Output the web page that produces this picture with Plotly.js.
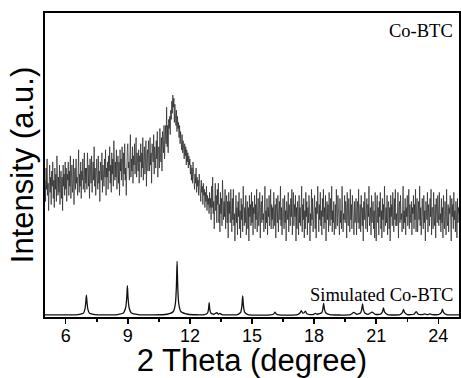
<!DOCTYPE html>
<html>
<head>
<meta charset="utf-8">
<script src="https://cdn.plot.ly/plotly-3.0.1.min.js"></script>
<style>html,body{margin:0;padding:0;background:#fff;}#chart{width:461px;height:378px;}</style>
</head>
<body>
<div id="chart"></div>
<script>
// Experimental Co-BTC pattern: uniform 2θ grid from 5.000 in steps of 0.025
var expStart = 5.0;
var expStep = 0.025;
var expY = [
  // 5.0 - 5.975
  45,38,49,42,52,40,44,35,47,50,41,46,37,48,43,51,39,45,36,49,42,47,38,53,44,40,46,41,50,37,45,48,39,46,35,50,43,47,40,51,
  // 6.0 - 6.975
  42,49,38,47,45,51,40,48,43,53,39,46,50,41,44,52,37,47,49,42,52,44,46,40,49,55,41,47,43,51,39,48,45,52,42,46,54,41,49,44,
  // 7.0 - 7.975
  49,42,54,46,43,50,39,52,48,44,53,41,47,51,45,56,43,49,40,50,52,46,42,53,44,48,38,51,49,45,54,41,50,47,43,52,46,55,40,49,
  // 8.0 - 8.975
  46,51,42,53,48,56,44,50,41,54,47,52,43,58,49,45,51,46,55,42,50,53,44,51,40,55,48,52,45,56,50,43,54,47,57,45,49,40,52,55,
  // 9.0 - 9.975
  57,49,51,45,54,60,46,52,48,56,44,53,50,57,47,51,59,46,54,49,48,55,44,53,51,57,46,54,49,59,45,52,56,47,50,58,43,53,55,48,
  // 10.0 - 10.975
  58,52,48,59,50,54,44,57,55,51,60,47,56,53,49,58,52,61,46,55,56,49,62,54,51,59,48,61,58,54,63,52,58,63,57,69,56,63,54,65,
  // 11.0 - 11.975
  62,66,60,68,65,71,67,73,69,72,64,70,66,63,68,61,66,62,64,59,63,57,61,58,55,60,54,58,56,52,57,53,56,50,55,51,54,49,53,50,
  // 12.0 - 12.975
  52,47,50,45,49,44,51,46,48,42,47,44,49,41,46,43,45,40,47,42,44,38,45,41,43,37,44,40,42,36,41,38,43,35,40,37,39,34,41,36,
  // 13.0 - 13.975
  39,32,43,36,46,34,38,29,41,44,35,40,31,42,37,44,31,37,28,41,34,39,30,45,36,32,38,33,42,29,37,40,31,38,26,41,34,38,31,42,
  // 14
  35,28,39,32,42,30,34,25,37,40,31,36,27,38,33,41,29,35,26,39,32,37,28,43,34,30,36,31,40,27,35,38,29,36,25,40,33,37,30,41,
  // 15
  31,38,27,36,34,40,29,37,32,42,28,35,39,30,33,41,26,36,38,31,40,32,34,28,37,43,29,35,31,39,27,36,33,40,30,34,42,29,37,32,
  // 16
  36,29,41,33,30,37,26,39,35,31,40,28,34,38,32,43,30,36,27,37,39,33,29,40,31,35,25,38,36,32,41,28,37,34,30,39,33,42,27,36,
  // 17
  41,30,37,33,40,25,36,29,38,35,27,40,31,36,30,34,43,28,37,32,39,26,35,29,41,33,38,27,36,31,40,37,25,34,30,42,32,39,28,35,
  // 18
  33,40,29,36,26,38,34,43,31,28,37,32,41,30,35,27,39,33,42,29,36,31,40,25,34,38,32,37,28,41,33,30,39,32,43,28,35,31,38,27,
  // 19
  32,37,29,42,34,30,40,33,36,27,39,31,35,29,43,37,28,34,32,40,31,38,36,26,41,33,30,39,35,28,42,32,37,29,40,34,36,27,38,31,
  // 20
  32,39,27,35,38,31,42,29,33,37,28,40,34,30,36,25,38,32,41,31,29,35,39,28,37,33,43,30,32,36,27,40,31,34,38,29,35,26,41,32,
  // 21
  25,37,40,31,36,27,38,33,41,29,35,26,39,32,37,28,43,34,30,36,31,40,27,35,38,29,36,25,40,33,37,30,41,35,28,39,32,42,30,34,
  // 22
  30,33,41,26,36,38,31,40,32,34,28,37,43,29,35,31,39,27,36,33,40,30,34,42,29,37,32,31,38,27,36,34,40,29,37,32,42,28,35,39,
  // 23
  28,34,38,32,43,30,36,27,37,39,33,29,40,31,35,25,38,36,32,41,28,37,34,30,39,33,42,27,36,36,29,41,33,30,37,26,39,35,31,40,
  // 24
  37,30,41,32,34,28,39,31,36,26,40,33,29,38,35,27,42,32,30,37,28,36,34,40,31,25,39,33,37,29,41,32,35,28,38,34,26,39,31,36,
  // 25.0
  34
];

// Simulated Co-BTC pattern
var simX = [
  5.0,
  6.6, 6.85, 6.93, 6.97, 7.0, 7.03, 7.07, 7.15, 7.4,
  8.5, 8.8, 8.9, 8.95, 8.98, 9.01, 9.06, 9.16, 9.5,
  10.9, 11.2, 11.3, 11.35, 11.38, 11.41, 11.46, 11.56, 11.9,
  12.7, 12.85, 12.9, 12.93, 12.96, 13.01, 13.15, 13.3, 13.38, 13.45, 13.55,
  14.3, 14.45, 14.51, 14.55, 14.59, 14.65, 14.8,
  15.9, 16.05, 16.11, 16.17, 16.3,
  17.2, 17.32, 17.38, 17.45, 17.52, 17.58, 17.65, 17.8,
  17.95, 18.06, 18.15, 18.37, 18.42, 18.46, 18.5, 18.56, 18.75,
  19.75, 19.92, 20.05, 20.24, 20.3, 20.34, 20.38, 20.45, 20.62, 20.8, 20.95,
  21.2, 21.3, 21.35, 21.4, 21.55,
  22.15, 22.27, 22.32, 22.37, 22.5, 22.82, 22.93, 23.03, 23.2, 23.35, 23.47, 23.6, 23.72,
  24.05, 24.15, 24.2, 24.25, 24.4, 25.0
];
var simY = [
  0.7,
  0.8, 1.2, 2.6, 4.8, 7.2, 4.8, 2.6, 1.2, 0.8,
  0.8, 1.4, 3.2, 6.5, 10.3, 6.5, 3.2, 1.4, 0.8,
  0.9, 1.8, 4.5, 10.5, 18.4, 10.5, 4.5, 1.8, 0.9,
  0.8, 1.3, 2.6, 4.7, 2.6, 1.3, 0.9, 1.4, 0.9, 1.2, 0.8,
  0.8, 1.5, 3.5, 6.9, 3.5, 1.5, 0.8,
  0.7, 1.0, 1.6, 1.0, 0.7,
  0.8, 1.3, 2.1, 1.3, 1.4, 1.9, 1.1, 0.8,
  0.8, 1.2, 0.9, 1.4, 2.6, 4.5, 2.6, 1.4, 0.8,
  0.8, 1.5, 0.9, 1.3, 2.5, 4.3, 2.5, 1.3, 0.9, 1.6, 0.9,
  0.9, 1.7, 3.0, 1.7, 0.8,
  0.8, 1.5, 2.5, 1.5, 0.8, 0.9, 1.8, 0.9, 0.8, 1.0, 0.8, 1.0, 0.8,
  0.9, 1.5, 2.6, 1.5, 0.8, 0.7
];

var xTickVals = [6, 9, 12, 15, 18, 21, 24];
var xTickText = ['6', '9', '12', '15', '18', '21', '24'];
var labelExp = 'Co-BTC';
var labelSim = 'Simulated Co-BTC';

var expX = [];
for (var i = 0; i < expY.length; i++) expX.push(+(expStart + i * expStep).toFixed(3));

var traces = [
  {x: expX, y: expY, type: 'scatter', mode: 'lines', line: {color: '#222', width: 0.7}, hoverinfo: 'skip'},
  {x: simX, y: simY, type: 'scatter', mode: 'lines', line: {color: '#111', width: 1.3, shape: 'spline', smoothing: 0.6}, hoverinfo: 'skip'}
];

var layout = {
  width: 461, height: 378,
  margin: {l: 45, r: 2, t: 13, b: 61},
  paper_bgcolor: '#fff', plot_bgcolor: '#fff',
  showlegend: false,
  font: {family: 'Arial, "Liberation Sans", sans-serif', color: '#000'},
  xaxis: {
    range: [5, 25], tickvals: xTickVals, ticktext: xTickText,
    ticks: 'outside', ticklen: 5, tickwidth: 1.5, tickcolor: '#000',
    ticklabelstandoff: -3,
    minor: {tick0: 7.5, dtick: 3, ticks: 'outside', ticklen: 3, tickwidth: 1.5, tickcolor: '#000'},
    showline: true, linecolor: '#000', linewidth: 1.8, mirror: true,
    showgrid: false, zeroline: false,
    tickfont: {size: 18, color: '#000'},
    title: {text: '2 Theta (degree)', font: {size: 31, color: '#000'}, standoff: 0}
  },
  yaxis: {
    range: [0, 100], showticklabels: false, ticks: '',
    showline: true, linecolor: '#000', linewidth: 1.8, mirror: true,
    showgrid: false, zeroline: false,
    title: {text: 'Intensity (a.u.)', font: {size: 31, color: '#000'}, standoff: 0}
  },
  annotations: [
    {text: labelExp, xref: 'paper', yref: 'paper', x: 0.99, y: 0.941, xanchor: 'right', yanchor: 'middle', showarrow: false,
     font: {family: '"Liberation Serif", "Times New Roman", serif', size: 18.5, color: '#000'}},
    {text: labelSim, xref: 'paper', yref: 'paper', x: 0.99, y: 0.072, xanchor: 'right', yanchor: 'middle', showarrow: false,
     font: {family: '"Liberation Serif", "Times New Roman", serif', size: 18.5, color: '#000'}}
  ]
};

Plotly.newPlot('chart', traces, layout, {displayModeBar: false, staticPlot: true});
</script>
</body>
</html>
